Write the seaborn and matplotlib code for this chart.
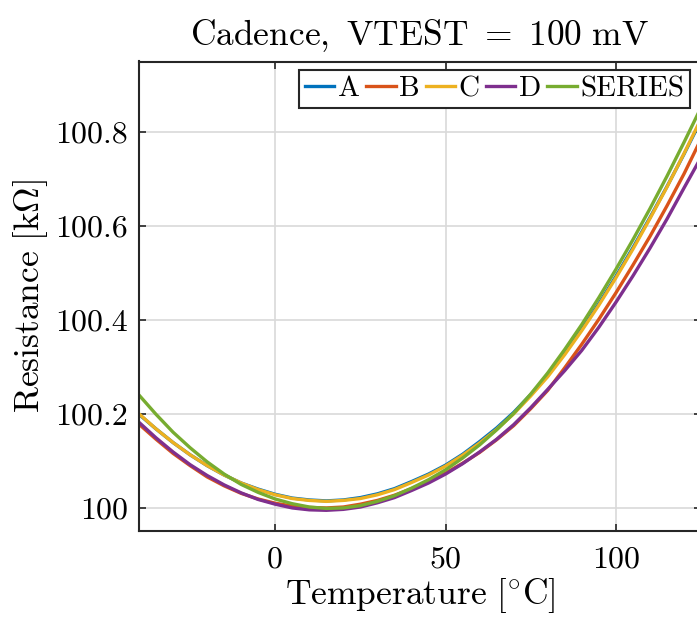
import numpy as np
import pandas as pd
import matplotlib
matplotlib.use("Agg")
import matplotlib.pyplot as plt
import seaborn as sns

# Data (resistance in kOhm vs temperature in degC)
temp = [-40, -35, -30, -25, -20, -15, -10, -5, 0, 5, 10, 15, 20, 25, 30, 35, 40,
        45, 50, 55, 60, 65, 70, 75, 80, 85, 90, 95, 100, 105, 110, 115, 120, 125]
res_a = [100.199, 100.168, 100.139, 100.113, 100.090, 100.070, 100.053, 100.040, 100.029,
         100.021, 100.017, 100.015, 100.017, 100.022, 100.030, 100.041, 100.056, 100.072,
         100.091, 100.114, 100.141, 100.170, 100.203, 100.241, 100.282, 100.329, 100.380,
         100.434, 100.492, 100.553, 100.617, 100.683, 100.752, 100.824]
res_b = [100.178, 100.146, 100.116, 100.090, 100.066, 100.047, 100.031, 100.019, 100.010,
         100.004, 100.001, 100.000, 100.002, 100.008, 100.016, 100.027, 100.041, 100.056,
         100.074, 100.095, 100.118, 100.145, 100.175, 100.211, 100.250, 100.298, 100.348,
         100.401, 100.457, 100.516, 100.577, 100.642, 100.710, 100.784]
res_c = [100.200, 100.168, 100.139, 100.113, 100.090, 100.070, 100.053, 100.039, 100.028,
         100.020, 100.016, 100.014, 100.016, 100.020, 100.028, 100.039, 100.054, 100.070,
         100.089, 100.112, 100.138, 100.167, 100.200, 100.238, 100.279, 100.326, 100.377,
         100.431, 100.489, 100.550, 100.615, 100.682, 100.753, 100.827]
res_d = [100.182, 100.149, 100.119, 100.092, 100.069, 100.049, 100.032, 100.018, 100.008,
         100.000, 99.996, 99.995, 99.997, 100.002, 100.011, 100.022, 100.037, 100.053,
         100.072, 100.094, 100.119, 100.146, 100.177, 100.213, 100.252, 100.292, 100.335,
         100.384, 100.437, 100.493, 100.552, 100.614, 100.680, 100.745]
res_series = [100.240, 100.199, 100.161, 100.128, 100.098, 100.072, 100.050, 100.033, 100.019,
              100.009, 100.002, 99.999, 100.000, 100.005, 100.014, 100.026, 100.042, 100.060,
              100.081, 100.106, 100.134, 100.166, 100.201, 100.242, 100.287, 100.337, 100.390,
              100.447, 100.507, 100.570, 100.636, 100.705, 100.777, 100.851]

names = ["A", "B", "C", "D", "SERIES"]
colors = ["#0072BD", "#D95319", "#EDB120", "#7E2F8E", "#77AC30"]
xticks = [0, 50, 100]
yticks = [100, 100.2, 100.4, 100.6, 100.8]
yticklabels = ["100", "100.2", "100.4", "100.6", "100.8"]

df = pd.DataFrame({
    "T": temp * 5,
    "R": res_a + res_b + res_c + res_d + res_series,
    "name": [n for n in names for _ in temp],
})

plt.rcParams["font.family"] = "serif"
plt.rcParams["font.serif"] = ["cmr10"]
plt.rcParams["mathtext.fontset"] = "cm"
plt.rcParams["axes.unicode_minus"] = False

fig = plt.figure(figsize=(6.97, 6.17), dpi=100)
ax = fig.add_axes([139 / 697, 1 - 531 / 617, (701 - 139) / 697, (531 - 61.5) / 617])

sns.lineplot(data=df, x="T", y="R", hue="name", palette=colors, linewidth=2.4,
             ax=ax, legend=True)

ax.set_xlim(-40, 125)
ax.set_ylim(99.951, 100.949)
ax.set_xticks(xticks)
ax.set_xticklabels([str(t) for t in xticks])
ax.set_yticks(yticks)
ax.set_yticklabels(yticklabels)
ax.tick_params(direction="in", length=5, width=1.2, labelsize=23, color="#262626",
               top=True, right=True, pad=8)
ax.tick_params(axis="x", pad=11)
ax.grid(True, color="#d9d9d9", linewidth=1.2)
ax.set_axisbelow(True)
for s in ax.spines.values():
    s.set_color("#262626")
    s.set_linewidth(1.5)

ax.set_xlabel(r"$\mathrm{Temperature\ [^{\circ}C]}$", fontsize=25.5, labelpad=2)
ax.set_ylabel(r"$\mathrm{Resistance\ [k\Omega]}$", fontsize=25.5, labelpad=4)
ax.set_title(r"$\mathrm{Cadence,\ VTEST\ =\ 100\ mV}$", fontsize=25.5, pad=12)

leg = ax.legend(ncol=5, loc="upper right", bbox_to_anchor=(0.9804, 0.982), fontsize=21,
                handlelength=1.0, handletextpad=0.12, columnspacing=0.22,
                borderpad=0.2, borderaxespad=0, fancybox=False, framealpha=1)
leg.get_frame().set_edgecolor("#262626")
leg.get_frame().set_linewidth(1.5)
for line in leg.get_lines():
    line.set_linewidth(2.4)

fig.savefig("out.png", dpi=100)
